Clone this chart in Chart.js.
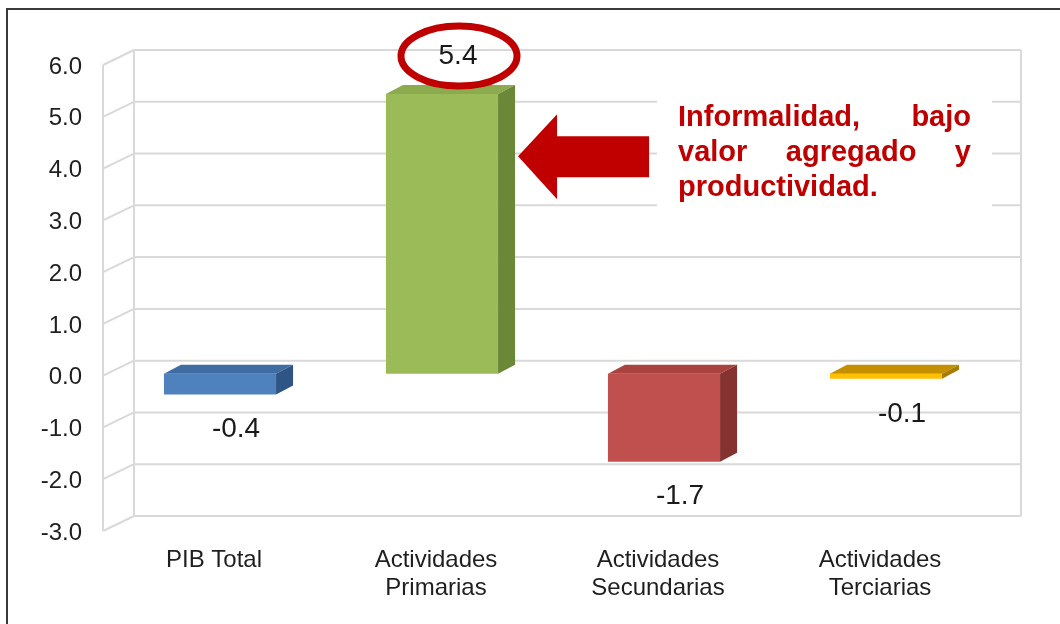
<!DOCTYPE html>
<html><head><meta charset="utf-8">
<script src="https://cdn.jsdelivr.net/npm/chart.js@4/dist/chart.umd.min.js"></script>
<style>html,body{margin:0;padding:0;background:#fff;}#wrap{width:1060px;height:624px;}</style>
</head><body><div id="wrap"><canvas id="c" width="1060" height="624"></canvas></div>
<script>
const categories = ['PIB Total', ['Actividades','Primarias'], ['Actividades','Secundarias'], ['Actividades','Terciarias']];
const values = [-0.4, 5.4, -1.7, -0.1];
const valueLabels = ['-0.4', '5.4', '-1.7', '-0.1'];
const yMin = -3, yMax = 6, yStep = 1;
const frontColors = ['#4F81BD', '#9BBB59', '#C0504D', '#FFC000'];
const topColors = ['#3F6CA3', '#8CAA4E', '#A9433F', '#C49000'];
const sideColors = ['#2F5586', '#6B8838', '#853230', '#A87C00'];
const annotationLines = ['Informalidad, bajo', 'valor agregado y', 'productividad.'];
const highlightIndex = 1;
const arrowValue = 4.2;

const FONT = "'Liberation Sans', Arial, sans-serif";
const DEPTH_X = 17, DEPTH_Y = -9;

const wallPlugin = {
  id: 'wall',
  beforeDatasetsDraw(chart) {
    const ctx = chart.ctx, ys = chart.scales.y, a = chart.chartArea;
    const bx0 = a.left + 25, bx1 = a.right + 24, fx = a.left - 6;
    ctx.save();
    ctx.strokeStyle = '#D9D9D9';
    ctx.lineWidth = 2;
    ctx.beginPath();
    for (let v = yMin; v <= yMax; v += yStep) {
      const by = ys.getPixelForValue(v) - 13, fy = by + 15;
      ctx.moveTo(bx0, by); ctx.lineTo(bx1, by);
      ctx.moveTo(fx, fy); ctx.lineTo(bx0, by);
    }
    const t = ys.getPixelForValue(yMax) - 13, b = ys.getPixelForValue(yMin) - 13;
    ctx.moveTo(bx0, t); ctx.lineTo(bx0, b);
    ctx.moveTo(bx1, t); ctx.lineTo(bx1, b);
    ctx.moveTo(fx, t + 15); ctx.lineTo(fx, b + 15);
    ctx.stroke();
    ctx.restore();
  }
};

function barBox(bar) {
  const p = bar.getProps(['x', 'y', 'base', 'width'], true);
  return { x1: p.x - p.width / 2, x2: p.x + p.width / 2, cx: p.x,
           top: Math.min(p.y, p.base), bot: Math.max(p.y, p.base) };
}

const bar3dPlugin = {
  id: 'bar3d',
  afterDatasetsDraw(chart) {
    const ctx = chart.ctx;
    const meta = chart.getDatasetMeta(0);
    ctx.save();
    meta.data.forEach((bar, i) => {
      const b = barBox(bar);
      ctx.fillStyle = topColors[i];
      ctx.beginPath();
      ctx.moveTo(b.x1, b.top); ctx.lineTo(b.x1 + DEPTH_X, b.top + DEPTH_Y);
      ctx.lineTo(b.x2 + DEPTH_X, b.top + DEPTH_Y); ctx.lineTo(b.x2, b.top);
      ctx.closePath(); ctx.fill();
      ctx.fillStyle = sideColors[i];
      ctx.beginPath();
      ctx.moveTo(b.x2, b.top); ctx.lineTo(b.x2 + DEPTH_X, b.top + DEPTH_Y);
      ctx.lineTo(b.x2 + DEPTH_X, b.bot + DEPTH_Y); ctx.lineTo(b.x2, b.bot);
      ctx.closePath(); ctx.fill();
    });
    // value labels
    ctx.font = '28px ' + FONT;
    ctx.fillStyle = '#1A1A1A';
    ctx.textAlign = 'center';
    ctx.textBaseline = 'middle';
    meta.data.forEach((bar, i) => {
      const b = barBox(bar);
      const lx = b.cx + 16;
      const ly = values[i] >= 0 ? b.top - 38 : b.bot + 35;
      ctx.fillText(valueLabels[i], lx, ly);
      if (i === highlightIndex) {
        ctx.strokeStyle = '#C00000';
        ctx.lineWidth = 7;
        ctx.beginPath();
        ctx.ellipse(lx + 1, ly, 58, 30, 0, 0, Math.PI * 2);
        ctx.stroke();
      }
    });
    ctx.restore();
  }
};

const annotationPlugin = {
  id: 'annot',
  afterDraw(chart) {
    const ctx = chart.ctx, ys = chart.scales.y;
    const bar = chart.getDatasetMeta(0).data[highlightIndex];
    const b = barBox(bar);
    ctx.save();
    // outer frame
    ctx.strokeStyle = '#3A3A3A';
    ctx.lineWidth = 2;
    ctx.beginPath();
    ctx.moveTo(7, 640); ctx.lineTo(7, 9); ctx.lineTo(1070, 9);
    ctx.stroke();
    // arrow
    const tx = b.x2 + DEPTH_X + 3, ty = ys.getPixelForValue(arrowValue);
    ctx.fillStyle = '#C00000';
    ctx.beginPath();
    ctx.moveTo(tx, ty);
    ctx.lineTo(tx + 39, ty - 42);
    ctx.lineTo(tx + 39, ty - 20);
    ctx.lineTo(tx + 131, ty - 20);
    ctx.lineTo(tx + 131, ty + 21);
    ctx.lineTo(tx + 39, ty + 21);
    ctx.lineTo(tx + 39, ty + 43);
    ctx.closePath();
    ctx.fill();
    // text box
    ctx.fillStyle = '#FFFFFF';
    ctx.fillRect(657, 92, 335, 124);
    ctx.fillStyle = '#C00000';
    ctx.font = 'bold 29px ' + FONT;
    ctx.textBaseline = 'alphabetic';
    ctx.textAlign = 'left';
    const left = 678, right = 971, baselines = [126, 161, 196];
    annotationLines.forEach((line, li) => {
      const words = line.split(' ');
      if (li === annotationLines.length - 1 || words.length === 1) {
        ctx.fillText(line, left, baselines[li]);
        return;
      }
      const total = words.reduce((s, w) => s + ctx.measureText(w).width, 0);
      const gap = (right - left - total) / (words.length - 1);
      let x = left;
      words.forEach(w => { ctx.fillText(w, x, baselines[li]); x += ctx.measureText(w).width + gap; });
    });
    ctx.restore();
  }
};

new Chart(document.getElementById('c'), {
  type: 'bar',
  data: {
    labels: categories,
    datasets: [{ data: values, backgroundColor: frontColors, borderWidth: 0,
                 barPercentage: 1, categoryPercentage: 0.505 }]
  },
  options: {
    responsive: false,
    animation: false,
    devicePixelRatio: 1,
    layout: { padding: { top: 63, right: 63, bottom: 0, left: 0 } },
    plugins: { legend: { display: false }, tooltip: { enabled: false }, title: { display: false } },
    scales: {
      x: {
        grid: { display: false, drawTicks: false },
        border: { display: false },
        ticks: { font: { family: FONT, size: 24, lineHeight: 28 / 24 }, color: '#1F1F1F',
                 padding: 17, labelOffset: -6, maxRotation: 0, autoSkip: false },
        afterFit: s => { s.height = 95; }
      },
      y: {
        min: yMin, max: yMax,
        grid: { display: false, drawTicks: false },
        border: { display: false },
        ticks: { stepSize: yStep, callback: v => Number(v).toFixed(1),
                 font: { family: FONT, size: 24 }, color: '#1F1F1F', padding: 27, labelOffset: 4 },
        afterFit: s => { s.width = 109; }
      }
    }
  },
  plugins: [wallPlugin, bar3dPlugin, annotationPlugin]
});
</script>
</body></html>
